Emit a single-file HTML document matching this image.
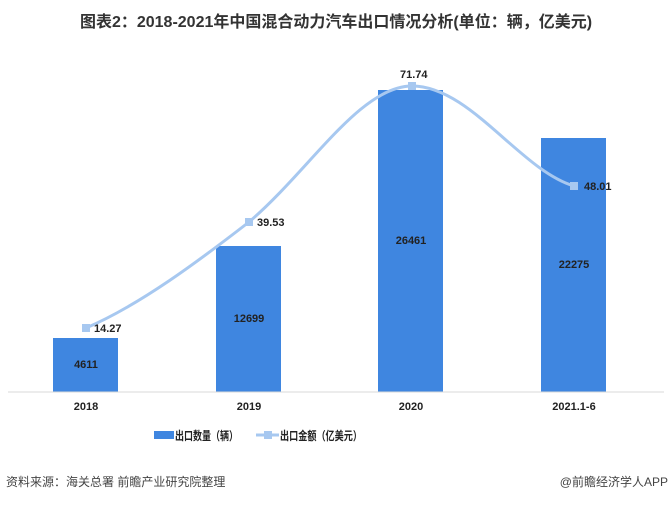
<!DOCTYPE html>
<html><head><meta charset="utf-8"><style>
body{margin:0;background:#fff;width:672px;height:504px;overflow:hidden;font-family:"Liberation Sans","Noto Sans CJK SC",sans-serif;}
</style></head><body>
<svg width="672" height="504" xmlns="http://www.w3.org/2000/svg" font-family="Liberation Sans, Noto Sans CJK SC, sans-serif">
<text x="336" y="27" text-anchor="middle" font-size="16" font-weight="bold" fill="#333">图表2：2018-2021年中国混合动力汽车出口情况分析(单位：辆，亿美元)</text>
<g fill="#3f86e0">
<rect x="53" y="338" width="65" height="54"/>
<rect x="216" y="246" width="65" height="146"/>
<rect x="378" y="90" width="65" height="302"/>
<rect x="541" y="138" width="65" height="254"/>
</g>
<line x1="8" y1="392" x2="664" y2="392" stroke="#d9d9d9"/>
<g font-size="11" font-weight="bold" fill="#222" text-anchor="middle">
<text x="86" y="368">4611</text>
<text x="249" y="322">12699</text>
<text x="411" y="244">26461</text>
<text x="574" y="268">22275</text>
<text x="86" y="410">2018</text>
<text x="249" y="410">2019</text>
<text x="411" y="410">2020</text>
<text x="574" y="410">2021.1-6</text>
</g>
<path d="M86,328 C140,305 200,260 249,222 C310,170 360,86 412,86 C470,86 520,170 574,186" fill="none" stroke="#a7c8f0" stroke-width="3"/>
<g fill="#a7c8f0">
<rect x="82" y="324" width="8" height="8"/><rect x="245" y="218" width="8" height="8"/>
<rect x="408" y="82" width="8" height="8"/><rect x="570" y="182" width="8" height="8"/>
</g>
<g font-size="11" font-weight="bold" fill="#222">
<text x="94" y="332">14.27</text>
<text x="257" y="226">39.53</text>
<text x="400" y="78">71.74</text>
<text x="584" y="190">48.01</text>
</g>
<rect x="154" y="431" width="20" height="8" fill="#3f86e0"/>
<text x="175" y="440" font-size="12" font-weight="bold" fill="#222" textLength="63" lengthAdjust="spacingAndGlyphs">出口数量（辆）</text>
<line x1="256" y1="435" x2="279" y2="435" stroke="#a7c8f0" stroke-width="3"/>
<rect x="264" y="431" width="8" height="8" fill="#a7c8f0"/>
<text x="280" y="440" font-size="12" font-weight="bold" fill="#222" textLength="82" lengthAdjust="spacingAndGlyphs">出口金额（亿美元）</text>
<text x="6" y="486" font-size="12" fill="#444">资料来源：海关总署 前瞻产业研究院整理</text>
<text x="668" y="486" font-size="12" fill="#444" text-anchor="end">@前瞻经济学人APP</text>
</svg>
</body></html>
